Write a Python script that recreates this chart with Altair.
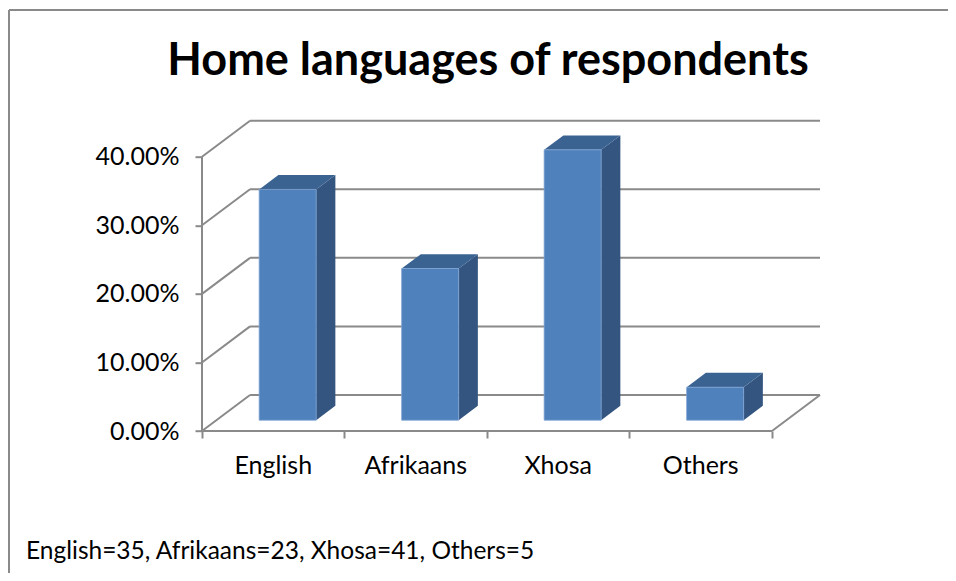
import altair as alt
import pandas as pd

# ---- data ----
categories = ["English", "Afrikaans", "Xhosa", "Others"]
counts = [35, 23, 41, 5]
y_ticks = [0.0, 0.1, 0.2, 0.3, 0.4]
title_text = "Home languages of respondents"

total = sum(counts)
shares = [c / total for c in counts]
n = len(categories)

# 3D projection parameters (in data units)
DX = 0.337    # depth shift along x (category units)
DY = 0.0525   # depth shift along y (share units)
D0, D1 = 0.3, 0.7   # bar depth range
W0, W1 = 0.3, 0.7   # bar width range inside category

GRID = "#8a8a8a"
FONT = "Lato"

front = pd.DataFrame({
    "cat": categories,
    "x": [i + W0 + D0 * DX for i in range(n)],
    "x2": [i + W1 + D0 * DX for i in range(n)],
    "y": [D0 * DY] * n,
    "y2": [s + D0 * DY for s in shares],
})

side_rows = []
for i, (c, s) in enumerate(zip(categories, shares)):
    for d in (D0, D1):
        side_rows.append({"cat": c, "x": i + W1 + d * DX, "ylo": d * DY, "yhi": s + d * DY})
side = pd.DataFrame(side_rows)

top_rows = []
for i, (c, s) in enumerate(zip(categories, shares)):
    for d in (D0, D1):
        top_rows.append({"cat": c, "y": s + d * DY, "xlo": i + W0 + d * DX, "xhi": i + W1 + d * DX})
top = pd.DataFrame(top_rows)

rules = []
for v in y_ticks:
    rules.append({"x": DX, "x2": n + DX, "y": v + DY, "y2": v + DY})   # back wall
    rules.append({"x": 0, "x2": DX, "y": v, "y2": v + DY})             # side wall
rules.append({"x": n, "x2": n + DX, "y": 0, "y2": DY})                 # floor right edge
grid = pd.DataFrame(rules)

axes_lines = pd.DataFrame([
    {"x": 0, "x2": 0, "y": 0, "y2": max(y_ticks)},
    {"x": 0, "x2": n, "y": 0, "y2": 0},
])

labels = pd.DataFrame({"cat": categories, "x": [i + 0.5 for i in range(n)], "y": [0] * n})
footnote = pd.DataFrame({"t": [", ".join(f"{c}={v}" for c, v in zip(categories, counts))]})
title_df = pd.DataFrame({"t": [title_text]})

xs = alt.Scale(domain=[0, n + DX], nice=False, zero=False)
ys = alt.Scale(domain=[0, max(y_ticks) + DY], nice=False, zero=False)

x_axis = alt.Axis(values=list(range(n + 1)), labels=False, tickSize=7, tickWidth=2,
                  tickColor=GRID, domain=False, grid=False, title=None)
y_axis = alt.Axis(values=y_ticks, format=".2%", tickSize=7, tickWidth=2, tickColor=GRID,
                  domain=False, grid=False, title=None, labelPadding=16,
                  labelFont=FONT, labelFontSize=25, labelColor="black")


def X(f):
    return alt.X(f, scale=xs, axis=x_axis)


def Y(f):
    return alt.Y(f, scale=ys, axis=y_axis)


grid_layer = alt.Chart(grid).mark_rule(color=GRID, strokeWidth=2).encode(
    x=X("x:Q"), x2="x2:Q", y=Y("y:Q"), y2="y2:Q",
)

side_layer = alt.Chart(side).mark_area(color="#33557f", opacity=1).encode(
    x=X("x:Q"), y=Y("ylo:Q"), y2="yhi:Q", detail="cat:N",
)

top_layer = alt.Chart(top).mark_area(color="#3b6392", opacity=1, orient="horizontal").encode(
    y=Y("y:Q"), x=X("xlo:Q"), x2="xhi:Q", detail="cat:N",
)

front_layer = alt.Chart(front).mark_rect(color="#4f81bd", stroke="#7fa3d3", strokeWidth=0.8).encode(
    x=X("x:Q"), x2="x2:Q", y=Y("y:Q"), y2="y2:Q",
)

axis_layer = alt.Chart(axes_lines).mark_rule(color=GRID, strokeWidth=2).encode(
    x=X("x:Q"), x2="x2:Q", y=Y("y:Q"), y2="y2:Q",
)

label_layer = alt.Chart(labels).mark_text(dy=35, font=FONT, fontSize=25, color="black").encode(
    x=X("x:Q"), y=Y("y:Q"), text="cat:N",
)

foot_layer = alt.Chart(footnote).mark_text(align="left", baseline="middle", font=FONT,
                                           fontSize=24.5, color="black").encode(
    x=alt.value(-176), y=alt.value(431), text="t:N",
)

title_layer = alt.Chart(title_df).mark_text(align="center", baseline="middle", font=FONT,
                                            fontSize=45, fontWeight="bold", color="black").encode(
    x=alt.value(286), y=alt.value(-59.5), text="t:N",
)

frame = pd.DataFrame({"k": ["top", "left"]})
border_top = alt.Chart(frame.iloc[[0]]).mark_rule(color="#8a8a8a", strokeWidth=2).encode(
    x=alt.value(-193), x2=alt.value(760), y=alt.value(-110.7), y2=alt.value(-110.7))
border_left = alt.Chart(frame.iloc[[1]]).mark_rule(color="#8a8a8a", strokeWidth=2).encode(
    x=alt.value(-193), x2=alt.value(-193), y=alt.value(-110.7), y2=alt.value(470))

chart = alt.layer(
    grid_layer, side_layer, top_layer, front_layer, axis_layer, label_layer, foot_layer,
    title_layer, border_top, border_left,
).properties(
    width=618, height=310.3,
    autosize=alt.AutoSizeParams(type="none"),
    padding={"left": 194, "top": 112.7, "right": 128, "bottom": 142},
).configure_view(stroke=None)

chart.save("out.html", embed_options={"renderer": "svg", "actions": False})
